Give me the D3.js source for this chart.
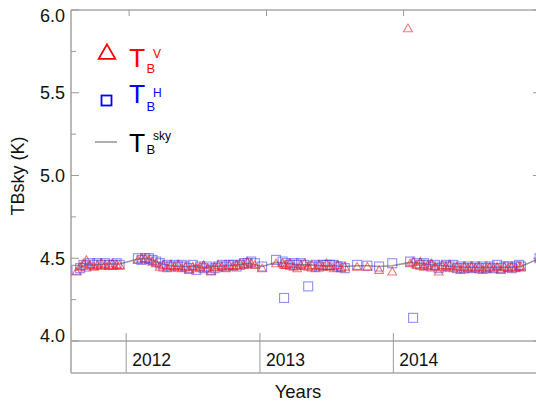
<!DOCTYPE html>
<html><head><meta charset="utf-8">
<script src="https://cdn.jsdelivr.net/npm/d3@7"></script>
<style>
html,body{margin:0;padding:0;background:#fff;}
svg{display:block;font-family:"Liberation Sans",Arial,sans-serif;}
</style></head>
<body><svg id="c" width="536" height="403"></svg>
<script>
// ---- data ----
const obsDates = [
"2011-08-18","2011-08-28","2011-09-06","2011-09-14","2011-09-24","2011-10-04","2011-10-14","2011-10-25","2011-11-04","2011-11-15","2011-11-25","2011-12-06","2011-12-14",
"2012-02-02","2012-02-12","2012-02-22","2012-03-03","2012-03-13","2012-03-23","2012-04-02","2012-04-12","2012-04-22","2012-05-02","2012-05-12","2012-05-22","2012-06-01","2012-06-11","2012-06-21","2012-07-01","2012-07-11","2012-07-21","2012-07-31","2012-08-10","2012-08-20","2012-08-30","2012-09-09","2012-09-19","2012-09-29","2012-10-09","2012-10-19","2012-10-29","2012-11-08","2012-11-18","2012-11-28","2012-12-08","2012-12-18",
"2013-01-07","2013-02-14","2013-03-04","2013-03-08","2013-03-14","2013-03-24","2013-04-03","2013-04-13","2013-04-23","2013-05-03","2013-05-13","2013-05-23","2013-06-02","2013-06-12","2013-06-22","2013-07-02","2013-07-12","2013-07-22","2013-08-01","2013-08-11","2013-08-21",
"2013-09-24","2013-10-22","2013-11-23","2013-12-29",
"2014-02-10","2014-02-16","2014-02-24","2014-03-06","2014-03-16","2014-03-26","2014-04-05","2014-04-15","2014-04-25","2014-05-05","2014-05-15","2014-05-25","2014-06-04","2014-06-14","2014-06-24","2014-07-04","2014-07-14","2014-07-24","2014-08-03","2014-08-13","2014-08-23","2014-09-02","2014-09-12","2014-09-22","2014-10-02","2014-10-12","2014-10-22","2014-11-01","2014-11-11","2014-11-21","2014-12-01","2014-12-11","2014-12-16",
"2015-02-05"
];
const tbV = [
4.42,4.45,4.47,4.49,4.46,4.45,4.46,4.47,4.46,4.46,4.47,4.46,4.46,
4.49,4.50,4.50,4.49,4.48,4.47,4.45,4.46,4.44,4.46,4.45,4.46,4.44,4.45,4.43,4.45,4.44,4.45,4.46,4.44,4.42,4.45,4.46,4.45,4.44,4.46,4.45,4.46,4.47,4.46,4.48,4.47,4.46,
4.44,4.47,4.47,4.46,4.46,4.47,4.45,4.44,4.46,4.47,4.45,4.46,4.44,4.46,4.45,4.47,4.45,4.44,4.46,4.44,4.45,
4.45,4.45,4.43,4.42,
5.89,4.47,4.48,4.46,4.48,4.45,4.46,4.47,4.45,4.42,4.46,4.45,4.46,4.44,4.45,4.43,4.45,4.44,4.45,4.44,4.45,4.43,4.44,4.45,4.44,4.45,4.43,4.45,4.44,4.45,4.44,4.45,4.45,
4.50
];
const tbH = [
4.43,4.44,4.46,4.45,4.47,4.46,4.47,4.46,4.47,4.46,4.46,4.47,4.46,
4.50,4.49,4.50,4.50,4.49,4.48,4.47,4.45,4.46,4.45,4.46,4.45,4.46,4.45,4.44,4.46,4.43,4.45,4.44,4.45,4.43,4.44,4.45,4.46,4.45,4.46,4.46,4.45,4.46,4.47,4.47,4.48,4.47,
4.45,4.49,4.48,4.26,4.47,4.46,4.47,4.46,4.47,4.46,4.33,4.45,4.46,4.45,4.46,4.46,4.46,4.46,4.45,4.45,4.44,
4.46,4.455,4.45,4.47,
null,4.48,4.14,4.47,4.46,4.47,4.46,4.45,4.46,4.44,4.45,4.46,4.45,4.46,4.44,4.45,4.44,4.45,4.44,4.45,4.44,4.45,4.44,4.45,4.44,4.46,4.44,4.45,4.45,4.44,4.45,4.46,4.45,
4.50
];
const skyDates = ["2011-08-18","2011-09-10","2011-10-10","2011-11-10","2011-12-14","2012-02-02","2012-03-01","2012-04-01","2012-05-01","2012-06-01","2012-07-01","2012-08-01","2012-09-01","2012-10-01","2012-11-01","2012-12-01","2013-01-07","2013-02-14","2013-03-15","2013-04-15","2013-05-15","2013-06-15","2013-07-15","2013-08-21","2013-09-24","2013-10-22","2013-11-23","2013-12-29","2014-02-16","2014-03-15","2014-04-15","2014-05-15","2014-06-15","2014-07-15","2014-08-15","2014-09-15","2014-10-15","2014-11-15","2014-12-16","2015-02-05"];
const tbSky = [4.43,4.46,4.46,4.465,4.465,4.495,4.50,4.47,4.455,4.45,4.45,4.445,4.45,4.455,4.46,4.47,4.45,4.475,4.47,4.46,4.46,4.455,4.455,4.45,4.455,4.455,4.45,4.455,4.475,4.47,4.46,4.455,4.45,4.445,4.445,4.445,4.445,4.445,4.45,4.50];
const yTicks = [4.0,4.5,5.0,5.5,6.0];
const yMinorTicks = [4.25,4.75,5.25,5.75];
const yearTicks = ["2012-01-01","2013-01-01","2014-01-01"];
const yearLabels = ["2012","2013","2014"];
const topTicks = ["2012-01-09","2013-01-19","2014-01-29"];
const xDomain = ["2011-08-03","2015-02-09"];
const yDomain = [4.0, 6.0];

// ---- layout ----
const parse = d3.utcParse("%Y-%m-%d");
const L = 71, R = 541, T = 10, B = 341, BB = 373;
const x = d3.scaleUtc().domain(xDomain.map(parse)).range([L, R]);
const y = d3.scaleLinear().domain(yDomain).range([B, T]);
const svg = d3.select("#c");
const axisCol = "#a8a8a8";

// box
const g = svg.append("g");
g.append("line").attr("x1",L).attr("x2",L).attr("y1",T).attr("y2",BB);
g.append("line").attr("x1",R).attr("x2",R).attr("y1",T).attr("y2",BB);
g.append("line").attr("x1",L).attr("x2",R).attr("y1",T).attr("y2",T);
g.append("line").attr("x1",L).attr("x2",R).attr("y1",B).attr("y2",B);
g.append("line").attr("x1",L).attr("x2",R).attr("y1",BB).attr("y2",BB);
g.selectAll("line").attr("stroke",axisCol).attr("stroke-width",1.6);

// y ticks (inward both sides)
const tk = svg.append("g").attr("stroke","#9a9a9a").attr("stroke-width",1);
yTicks.forEach(v=>{
  tk.append("line").attr("x1",L).attr("x2",L+8).attr("y1",y(v)).attr("y2",y(v));
  tk.append("line").attr("x1",R).attr("x2",R-8).attr("y1",y(v)).attr("y2",y(v));
});
yMinorTicks.forEach(v=>{
  tk.append("line").attr("x1",L).attr("x2",L+5).attr("y1",y(v)).attr("y2",y(v));
  tk.append("line").attr("x1",R).attr("x2",R-5).attr("y1",y(v)).attr("y2",y(v));
});
// year dividers
yearTicks.forEach(d=>{
  const xx = x(parse(d));
  tk.append("line").attr("x1",xx).attr("x2",xx).attr("y1",B-8).attr("y2",BB);
});
topTicks.forEach(d=>{
  const xx = x(parse(d));
  tk.append("line").attr("x1",xx).attr("x2",xx).attr("y1",T).attr("y2",T+6);
});

// y tick labels
const yl = svg.append("g").attr("font-size",18).attr("fill","#111").attr("text-anchor","end");
yTicks.forEach(v=>{
  let dy = 6.5;
  if (v===yDomain[1]) dy = 12;
  if (v===yDomain[0]) dy = 0.5;
  yl.append("text").attr("x",L-6).attr("y",y(v)+dy).text(v.toFixed(1));
});
// year labels
const xl = svg.append("g").attr("font-size",17.5).attr("fill","#111");
yearTicks.forEach((d,i)=>{
  xl.append("text").attr("x",x(parse(d))+6).attr("y",366).text(yearLabels[i]);
});
// axis titles
svg.append("text").attr("x",298).attr("y",398).attr("text-anchor","middle").attr("font-size",18.5).attr("fill","#111").text("Years");
svg.append("text").attr("transform","translate(24,176) rotate(-90)").attr("text-anchor","middle").attr("font-size",18).attr("fill","#111").text("TBsky (K)");

// plot clip
svg.append("clipPath").attr("id","pc").append("rect").attr("x",L).attr("y",T).attr("width",R-L).attr("height",B-T);
const plot = svg.append("g").attr("clip-path","url(#pc)");

// sky line
const skyData = skyDates.map((d,i)=>({d:parse(d),v:tbSky[i]}));
plot.append("path").datum(skyData)
  .attr("fill","none").attr("stroke","#9a9a9a").attr("stroke-width",1.6)
  .attr("d", d3.line().x(p=>x(p.d)).y(p=>y(p.v)));

const obs = obsDates.map((d,i)=>({d:parse(d),v:tbV[i],h:tbH[i]}));
const tri = d3.symbol().type(d3.symbolTriangle).size(34);
// H squares
plot.append("g").selectAll("rect").data(obs.filter(o=>o.h!=null)).join("rect")
  .attr("x",o=>x(o.d)-4.5).attr("y",o=>y(o.h)-4.5).attr("width",9).attr("height",9)
  .attr("fill","none").attr("stroke","#3333ee").attr("stroke-opacity",0.55).attr("stroke-width",1.1);
// V triangles
plot.append("g").selectAll("path").data(obs.filter(o=>o.v!=null)).join("path")
  .attr("transform",o=>`translate(${x(o.d)},${y(o.v)+1})`).attr("d",tri)
  .attr("fill","none").attr("stroke","#ee2222").attr("stroke-opacity",0.6).attr("stroke-width",1.1);

// legend
const lg = svg.append("g");
lg.append("path").attr("transform","translate(107,54)").attr("d",d3.symbol().type(d3.symbolTriangle).size(120)())
  .attr("fill","none").attr("stroke","#ff0000").attr("stroke-width",1.8);
lg.append("rect").attr("x",101.5).attr("y",95.5).attr("width",10).attr("height",10)
  .attr("fill","none").attr("stroke","#0000ff").attr("stroke-width",1.8);
lg.append("line").attr("x1",95).attr("x2",117).attr("y1",142).attr("y2",142).attr("stroke","#9a9a9a").attr("stroke-width",1.6);
const rows = [
  {c:"#ff0000", yT:67, sup:"V", yS:58, yB:73},
  {c:"#0000ff", yT:103, sup:"H", yS:97, yB:111},
  {c:"#000000", yT:152, sup:"sky", yS:140, yB:154}
];
rows.forEach(r=>{
  lg.append("text").attr("x",129).attr("y",r.yT).attr("font-size",26.5).attr("fill",r.c).text("T");
  lg.append("text").attr("x",146.5).attr("y",r.yB).attr("font-size",13).attr("fill",r.c).text("B");
  lg.append("text").attr("x",153).attr("y",r.yS).attr("font-size",12).attr("fill",r.c).text(r.sup);
});
</script></body></html>
